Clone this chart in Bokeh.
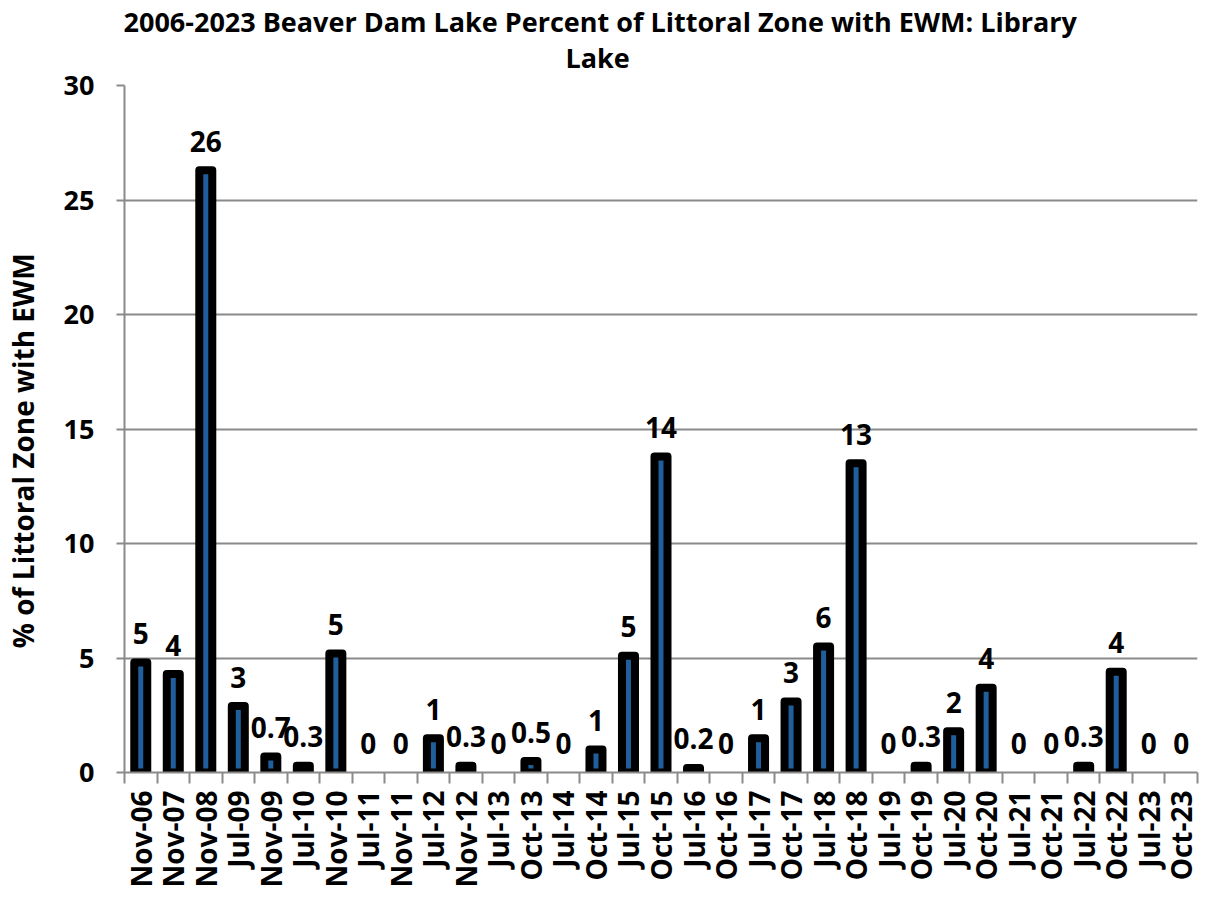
import math
from bokeh.plotting import figure
from bokeh.models import ColumnDataSource, FixedTicker, Range1d, Title, CDSView, BooleanFilter
from bokeh.core.properties import value
from bokeh.embed import file_html
from bokeh.resources import INLINE

dates = ["Nov-06", "Nov-07", "Nov-08", "Jul-09", "Nov-09", "Jul-10", "Nov-10", "Jul-11",
         "Nov-11", "Jul-12", "Nov-12", "Jul-13", "Oct-13", "Jul-14", "Oct-14", "Jul-15",
         "Oct-15", "Jul-16", "Oct-16", "Jul-17", "Oct-17", "Jul-18", "Oct-18", "Jul-19",
         "Oct-19", "Jul-20", "Oct-20", "Jul-21", "Oct-21", "Jul-22", "Oct-22", "Jul-23", "Oct-23"]
pct = [4.8, 4.3, 26.3, 2.9, 0.7, 0.3, 5.2, 0, 0, 1.5, 0.3, 0, 0.5, 0, 1.0, 5.1,
       13.8, 0.2, 0, 1.5, 3.1, 5.5, 13.5, 0, 0.3, 1.8, 3.7, 0, 0, 0.3, 4.4, 0, 0]
labels = ["5", "4", "26", "3", "0.7", "0.3", "5", "0", "0", "1", "0.3", "0", "0.5", "0", "1", "5",
          "14", "0.2", "0", "1", "3", "6", "13", "0", "0.3", "2", "4", "0", "0", "0.3", "4", "0", "0"]
y_ticks = [0, 5, 10, 15, 20, 25, 30]
title_lines = ["2006-2023 Beaver Dam Lake Percent of Littoral Zone with EWM: Library", "Lake"]
y_title = "% of Littoral Zone with EWM"

FONT = "Open Sans"
GRID = "#8a8a8a"
BLUE = "#1f5f9b"

n = len(dates)
xs = [i + 0.5 for i in range(n)]
src = ColumnDataSource(dict(x=xs, top=pct, lab=labels))
view = CDSView(filter=BooleanFilter([v > 0 for v in pct]))

p = figure(width=1209, height=899, x_range=Range1d(0, n), y_range=Range1d(0, 30),
           output_backend="svg", toolbar_location=None,
           min_border_left=121, min_border_right=12, min_border_top=85, min_border_bottom=127)
p.outline_line_color = None
p.xgrid.grid_line_color = None
p.ygrid.grid_line_color = GRID
p.ygrid.grid_line_width = 2
p.ygrid.ticker = FixedTicker(ticks=y_ticks)

p.vbar(x="x", top="top", bottom=0, width=0.4, source=src, view=view,
       fill_color=BLUE, line_color="black", line_width=8, line_join="round")

p.text(x="x", y="top", text="lab", source=src, text_align="center", text_baseline="alphabetic",
       y_offset=-29, text_font=value(FONT), text_font_style="bold", text_font_size="28px",
       text_color="black")

# y axis
yax = p.yaxis[0]
yax.ticker = FixedTicker(ticks=y_ticks)
yax.axis_line_color = GRID
yax.axis_line_width = 2
yax.major_tick_line_color = GRID
yax.major_tick_line_width = 2
yax.major_tick_out = 8
yax.major_tick_in = 0
yax.minor_tick_line_color = None
yax.major_label_standoff = 22
yax.major_label_text_font = FONT
yax.major_label_text_font_style = "bold"
yax.major_label_text_font_size = "27px"
yax.major_label_text_color = "black"
yax.axis_label = y_title + "\u00a0" * 6
yax.axis_label_standoff = 19
yax.axis_label_text_font = FONT
yax.axis_label_text_font_style = "bold"
yax.axis_label_text_font_size = "28px"
yax.axis_label_text_color = "black"

# x axis
xax = p.xaxis[0]
xax.ticker = FixedTicker(ticks=xs, minor_ticks=list(range(n + 1)))
xax.major_label_overrides = {x: d for x, d in zip(xs, dates)}
xax.axis_line_color = GRID
xax.axis_line_width = 2
xax.major_tick_line_color = None
xax.major_tick_out = 0
xax.major_tick_in = 0
xax.minor_tick_line_color = GRID
xax.minor_tick_line_width = 2
xax.minor_tick_out = 11
xax.minor_tick_in = 0
xax.major_label_orientation = math.pi / 2
xax.major_label_standoff = 7
xax.major_label_text_font = FONT
xax.major_label_text_font_style = "bold"
xax.major_label_text_font_size = "28px"
xax.major_label_text_color = "black"

# titles (two lines)
p.add_layout(Title(text=title_lines[1], align="left", offset=441, text_font=FONT,
                   text_font_style="bold", text_font_size="27px", text_color="black",
                   standoff=20), "above")
p.add_layout(Title(text=title_lines[0], align="left", offset=-1, text_font=FONT,
                   text_font_style="bold", text_font_size="27px", text_color="black",
                   standoff=-26), "above")

open("out.html", "w").write(file_html(p, INLINE))
